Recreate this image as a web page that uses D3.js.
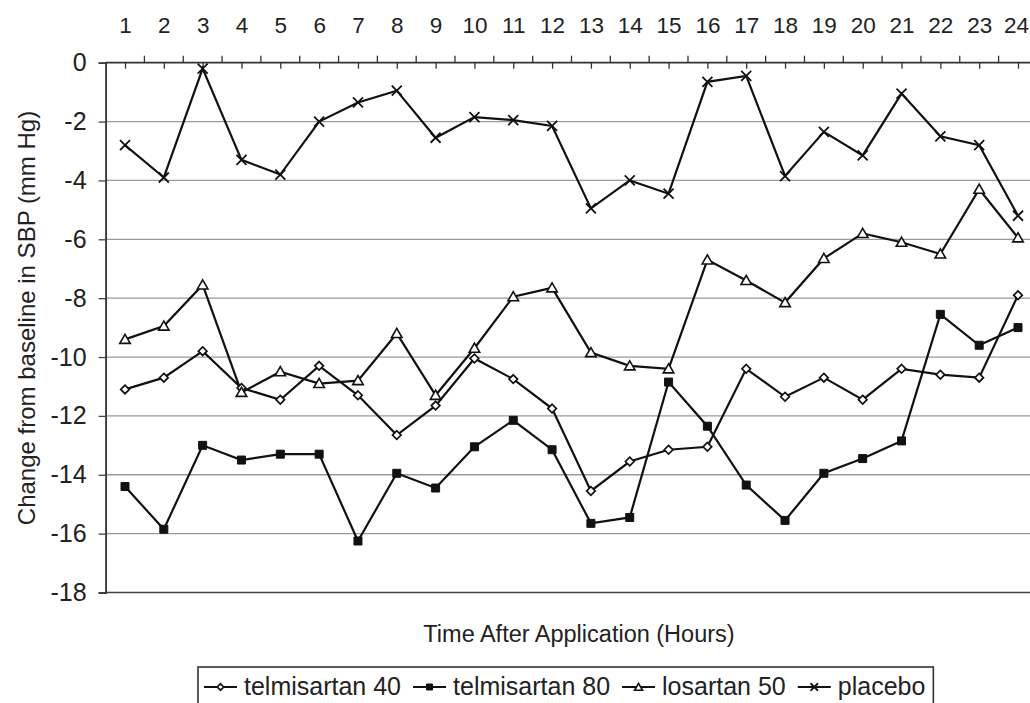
<!DOCTYPE html>
<html>
<head>
<meta charset="utf-8">
<script src="https://cdn.jsdelivr.net/npm/d3@7"></script>
<style>
  html, body { margin: 0; padding: 0; background: #fff; }
  svg { display: block; font-family: "Liberation Sans", Arial, Helvetica, sans-serif; }
</style>
</head>
<body>
<svg id="chart" width="1030" height="703"></svg>
<script>
// ---- data ----
const hours = [1,2,3,4,5,6,7,8,9,10,11,12,13,14,15,16,17,18,19,20,21,22,23,24];
const telmisartan40 = [-11.1, -10.7, -9.8, -11.05, -11.45, -10.3, -11.3, -12.65, -11.65, -10.05, -10.75, -11.75, -14.55, -13.55, -13.15, -13.05, -10.4, -11.35, -10.7, -11.45, -10.4, -10.6, -10.7, -7.9];
const telmisartan80 = [-14.4, -15.85, -13.0, -13.5, -13.3, -13.3, -16.25, -13.95, -14.45, -13.05, -12.15, -13.15, -15.65, -15.45, -10.85, -12.35, -14.35, -15.55, -13.95, -13.45, -12.85, -8.55, -9.6, -9.0];
const losartan50 = [-9.4, -8.95, -7.55, -11.2, -10.5, -10.9, -10.8, -9.2, -11.3, -9.7, -7.95, -7.65, -9.85, -10.3, -10.4, -6.7, -7.4, -8.15, -6.65, -5.8, -6.1, -6.5, -4.3, -5.95];
const placebo = [-2.8, -3.9, -0.2, -3.3, -3.8, -2.0, -1.35, -0.95, -2.55, -1.85, -1.95, -2.15, -4.95, -4.0, -4.45, -0.65, -0.45, -3.85, -2.35, -3.15, -1.05, -2.5, -2.8, -5.2];
const seriesNames = ["telmisartan 40", "telmisartan 80", "losartan 50", "placebo"];
const yTicks = [0, -2, -4, -6, -8, -10, -12, -14, -16, -18];
const xTitle = "Time After Application (Hours)";
const yTitle = "Change from baseline in SBP (mm Hg)";

const series = [
  { name: seriesNames[0], values: telmisartan40, marker: "diamond" },
  { name: seriesNames[1], values: telmisartan80, marker: "square" },
  { name: seriesNames[2], values: losartan50, marker: "triangle" },
  { name: seriesNames[3], values: placebo, marker: "x" }
];

// ---- layout ----
const svg = d3.select("#chart");
const x = d3.scalePoint().domain(hours).range([125, 1018]);
const step = x.step();
const left = x(hours[0]) - step / 2;
const y = d3.scaleLinear().domain([-18, 0]).range([592.5, 62.7]);
const FONT = '"Liberation Sans", Arial, Helvetica, sans-serif';

// gridlines
svg.append("g").selectAll("line").data(yTicks.filter(d => d !== 0 && d !== -18)).join("line")
  .attr("x1", left).attr("x2", 1030)
  .attr("y1", d => y(d)).attr("y2", d => y(d))
  .attr("stroke", "#9a9a9a").attr("stroke-width", 1.3);

// bottom line (-18)
svg.append("line").attr("x1", left).attr("x2", 1030).attr("y1", y(-18)).attr("y2", y(-18))
  .attr("stroke", "#444").attr("stroke-width", 1.6);

// left axis
const yAxis = d3.axisLeft(y).tickValues(yTicks).tickSize(7).tickPadding(12).tickFormat(d3.format("d"));
const gy = svg.append("g").attr("transform", `translate(${left},0)`).call(yAxis);
gy.select(".domain").attr("stroke", "#333").attr("stroke-width", 1.8);
gy.selectAll(".tick line").attr("stroke", "#444").attr("stroke-width", 1.3);
gy.selectAll(".tick text").attr("font-size", 25).attr("font-family", FONT).attr("fill", "#222")
  .text(d => d === 0 ? "0" : "-" + Math.abs(d));

// top axis
const xAxis = d3.axisTop(x).tickSize(-6).tickPadding(0).tickFormat(d => d);
const gx = svg.append("g").attr("transform", `translate(0,${y(0)})`).call(xAxis);
gx.select(".domain").remove();
gx.selectAll(".tick line").attr("stroke", "#333").attr("stroke-width", 1.3);
gx.selectAll(".tick text").attr("font-size", 22.5).attr("font-family", FONT).attr("fill", "#222")
  .attr("y", 33 - y(0)).attr("dy", 0)
  .attr("dx", d => d === 24 ? -2 : 0);
svg.append("line").attr("x1", left).attr("x2", 1030).attr("y1", y(0)).attr("y2", y(0))
  .attr("stroke", "#333").attr("stroke-width", 1.8);
// boundary ticks (upward)
svg.append("g").selectAll("line").data(hours).join("line")
  .attr("x1", d => x(d) + step / 2).attr("x2", d => x(d) + step / 2)
  .attr("y1", y(0) - 7).attr("y2", y(0))
  .attr("stroke", "#333").attr("stroke-width", 1.3);

// axis titles
svg.append("text").attr("x", 579).attr("y", 642).attr("text-anchor", "middle")
  .attr("font-size", 23.5).attr("font-family", FONT).attr("fill", "#222").text(xTitle);
svg.append("text").attr("transform", "translate(35,318) rotate(-90)").attr("text-anchor", "middle")
  .attr("font-size", 24).attr("font-family", FONT).attr("fill", "#222").text(yTitle);

// markers
function drawMarker(g, type, cx, cy, scale) {
  const s = scale || 1;
  if (type === "diamond") {
    const r = 4.3 * s;
    g.append("path").attr("d", `M${cx},${cy - r}L${cx + r},${cy}L${cx},${cy + r}L${cx - r},${cy}Z`)
      .attr("fill", "#fff").attr("stroke", "#111").attr("stroke-width", 1.7);
  } else if (type === "square") {
    g.append("path").attr("d", d3.symbol().type(d3.symbolSquare).size(64 * s * s)())
      .attr("transform", `translate(${cx},${cy})`).attr("fill", "#111").attr("stroke", "#111").attr("stroke-width", 1);
  } else if (type === "triangle") {
    g.append("path").attr("d", d3.symbol().type(d3.symbolTriangle).size(48 * s * s)())
      .attr("transform", `translate(${cx},${cy + 1})`).attr("fill", "#fff").attr("stroke", "#111").attr("stroke-width", 1.6);
  } else if (type === "x") {
    const r = 5 * s;
    g.append("path").attr("d", `M${cx - r},${cy - r}L${cx + r},${cy + r}M${cx - r},${cy + r}L${cx + r},${cy - r}`)
      .attr("fill", "none").attr("stroke", "#111").attr("stroke-width", 1.8);
  }
}

const line = d3.line().x((d, i) => x(hours[i])).y(d => y(d));
const plot = svg.append("g");
series.forEach(s => {
  plot.append("path").datum(s.values).attr("d", line)
    .attr("fill", "none").attr("stroke", "#111").attr("stroke-width", 2.2).attr("stroke-linejoin", "miter");
});
series.forEach(s => {
  const g = plot.append("g");
  s.values.forEach((v, i) => drawMarker(g, s.marker, x(hours[i]), y(v)));
});

// legend
const legend = svg.append("g");
const legBox = legend.append("rect").attr("x", 198).attr("y", 667).attr("height", 60)
  .attr("fill", "#fff").attr("stroke", "#333").attr("stroke-width", 1.6);
let lx = 204;
const ly = 687;
series.forEach(s => {
  legend.append("line").attr("x1", lx).attr("x2", lx + 33).attr("y1", ly).attr("y2", ly)
    .attr("stroke", "#111").attr("stroke-width", 2);
  drawMarker(legend, s.marker, lx + 16.5, ly, 0.75);
  const t = legend.append("text").attr("x", lx + 40).attr("y", 695)
    .attr("font-size", 25).attr("font-family", FONT).attr("fill", "#222").text(s.name);
  lx = lx + 40 + t.node().getComputedTextLength() + 12;
});
legBox.attr("width", lx - 198 - 4);
</script>
</body>
</html>
